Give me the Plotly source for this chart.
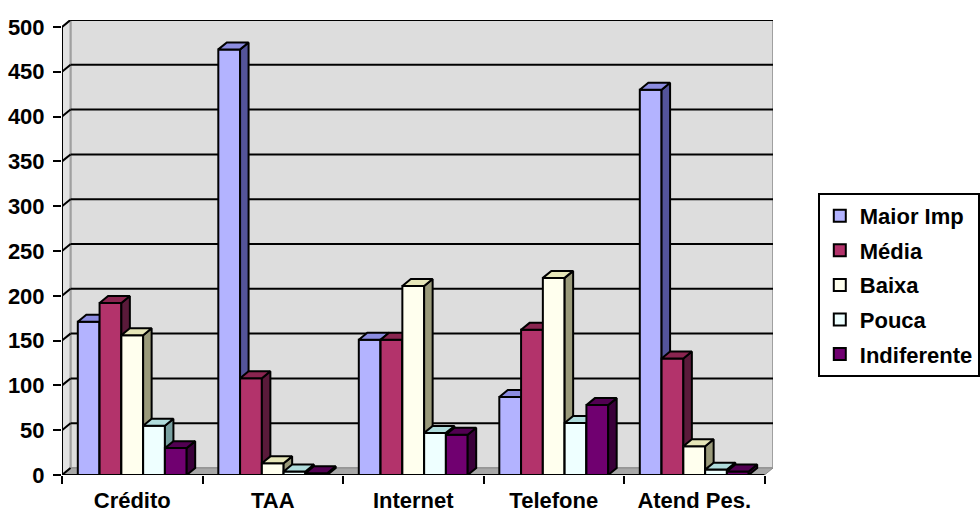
import plotly.graph_objects as go

# Survey answers per service channel
categories = ["Crédito", "TAA", "Internet", "Telefone", "Atend Pes."]
series_names = ["Maior Imp", "Média", "Baixa", "Pouca", "Indiferente"]
maior_imp = [171, 475, 151, 87, 430]
media = [192, 108, 151, 162, 130]
baixa = [156, 13, 211, 220, 32]
pouca = [55, 4, 47, 58, 6]
indiferente = [30, 2, 45, 78, 4]
y_ticks = list(range(0, 501, 50))

series_values = [maior_imp, media, baixa, pouca, indiferente]

# (front, top, side) shades for each series
front_colors = ["#B3B3FF", "#B3336B", "#FFFFEE", "#EEFFFF", "#700070"]
top_colors = ["#8C8CE0", "#8A2550", "#E6E6B8", "#B0DCDC", "#520052"]
side_colors = ["#54549A", "#5A1A3A", "#9A9A7A", "#78A0A0", "#3A003A"]

FONT = "Liberation Sans, Arial, sans-serif"
FS = 22
W = 0.155          # width of one bar (x units)
DX = 0.0605        # oblique depth offset, x units
DY = 7.8           # oblique depth offset, y units
X0, X1 = -0.5, len(categories) - 0.5
YMAX = 500

fig = go.Figure()

for j, (name, vals) in enumerate(zip(series_names, series_values)):
    xs = [i + (j - 2) * W for i in range(len(categories))]
    fig.add_trace(go.Bar(
        x=xs, y=vals, width=W, name=name,
        marker=dict(color=front_colors[j], line=dict(color="black", width=2)),
        hoverinfo="skip", zorder=2 * j, legendgroup=name,
    ))
    # side and top faces of the oblique projection
    sx, sy, tx, ty = [], [], [], []
    for xc, v in zip(xs, vals):
        xl, xr = xc - W / 2, xc + W / 2
        sx += [xr, xr, xr + DX, xr + DX, xr, None]
        sy += [0, v, v + DY, DY, 0, None]
        tx += [xl, xr, xr + DX, xl + DX, xl, None]
        ty += [v, v, v + DY, v + DY, v, None]
    fig.add_trace(go.Scatter(
        x=sx, y=sy, mode="lines", fill="toself", fillcolor=side_colors[j],
        line=dict(color="black", width=2), showlegend=False,
        hoverinfo="skip", zorder=2 * j + 1,
    ))
    fig.add_trace(go.Scatter(
        x=tx, y=ty, mode="lines", fill="toself", fillcolor=top_colors[j],
        line=dict(color="black", width=2), showlegend=False,
        hoverinfo="skip", zorder=2 * j + 1,
    ))

shapes = []
# back wall
shapes.append(dict(type="rect", xref="x", yref="y", layer="below",
                   x0=X0 + DX, x1=X1 + DX, y0=DY, y1=YMAX + DY,
                   fillcolor="#DDDDDD", line=dict(color="#A0A0A0", width=2)))
# left wall
shapes.append(dict(type="path", xref="x", yref="y", layer="below",
                   path=f"M{X0},0 L{X0},{YMAX} L{X0 + DX},{YMAX + DY} L{X0 + DX},{DY} Z",
                   fillcolor="#E2E2E2", line=dict(color="#A0A0A0", width=2)))
# floor
shapes.append(dict(type="path", xref="x", yref="y", layer="below",
                   path=f"M{X0},0 L{X1},0 L{X1 + DX},{DY} L{X0 + DX},{DY} Z",
                   fillcolor="#A8A8A8", line=dict(color="#8C8C8C", width=1)))
# gridlines on back and left walls
for t in y_ticks[1:]:
    shapes.append(dict(type="line", xref="x", yref="y", layer="below",
                       x0=X0 + DX, x1=X1 + DX, y0=t + DY, y1=t + DY,
                       line=dict(color="black", width=2)))
for t in y_ticks:
    shapes.append(dict(type="line", xref="x", yref="y", layer="below",
                       x0=X0, x1=X0 + DX, y0=t, y1=t + DY,
                       line=dict(color="black", width=2)))
# axis lines
shapes.append(dict(type="line", xref="x", yref="y", layer="above",
                   x0=X0, x1=X1, y0=0, y1=0, line=dict(color="black", width=2)))
shapes.append(dict(type="line", xref="x", yref="y", layer="above",
                   x0=X0, x1=X0, y0=0, y1=YMAX, line=dict(color="black", width=2)))

fig.update_layout(
    width=980, height=513,
    margin=dict(l=62, r=207, t=20, b=38, autoexpand=False),
    paper_bgcolor="white", plot_bgcolor="white",
    barmode="overlay",
    font=dict(family=FONT, size=FS, color="black"),
    shapes=shapes,
    showlegend=True,
    legend=dict(
        x=1.063, y=0.62, xanchor="left", yanchor="top",
        bordercolor="black", borderwidth=2, bgcolor="white",
        font=dict(family=FONT, size=FS, color="black", weight="bold"),
        tracegroupgap=3,
    ),
    xaxis=dict(
        range=[X0, X1 + DX], showgrid=False, zeroline=False, showline=False,
        automargin=False,
        tickmode="array", tickvals=list(range(len(categories))), ticktext=categories,
        ticks="", ticklabelstandoff=10,
        tickfont=dict(family=FONT, size=FS, color="black", weight="bold"),
        minor=dict(tick0=-0.5, dtick=1, ticks="outside", ticklen=8,
                   tickwidth=2, tickcolor="black", showgrid=False),
        fixedrange=True,
    ),
    yaxis=dict(
        range=[0, YMAX + DY], showgrid=False, zeroline=False, showline=False,
        automargin=False,
        tickmode="array", tickvals=y_ticks,
        ticks="outside", ticklen=8, tickwidth=2, tickcolor="black",
        ticklabelstandoff=4,
        tickfont=dict(family=FONT, size=FS, color="black", weight="bold"),
        fixedrange=True,
    ),
)

fig.write_html("out.html")
